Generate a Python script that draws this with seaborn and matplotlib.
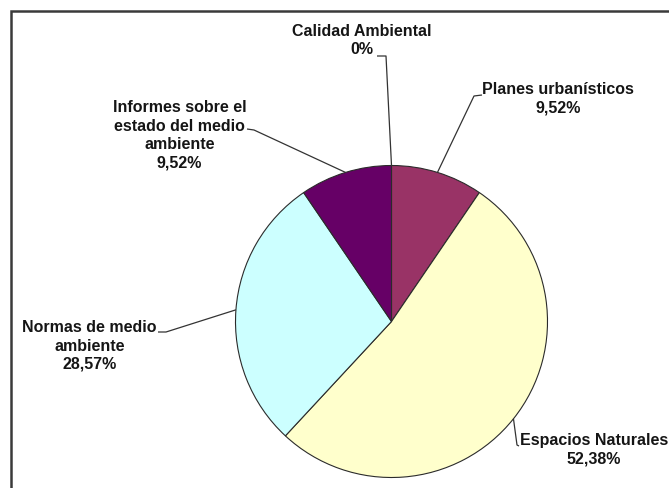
import matplotlib
matplotlib.use("Agg")
import matplotlib.pyplot as plt
from matplotlib.patches import Rectangle
import numpy as np
import seaborn as sns

# Environmental information requests by topic (percent)
categories = [
    "Calidad Ambiental",
    "Planes urbanísticos",
    "Espacios Naturales",
    "Normas de medio\nambiente",
    "Informes sobre el\nestado del medio\nambiente",
]
shares = [0.0, 9.52, 52.38, 28.57, 9.52]
slice_colors = ["#FFFFFF", "#993366", "#FFFFCC", "#CCFFFF", "#660066"]

sns.set_theme(style="white")
plt.rcParams["font.family"] = ["Liberation Sans", "DejaVu Sans"]

W, H = 669, 488
fig = plt.figure(figsize=(W / 100, H / 100), dpi=100)
fig.patch.set_facecolor("white")
ax = fig.add_axes([0, 0, 1, 1])

center = (391.5, H - 321.5)
radius = 156

wedges, _ = ax.pie(
    shares,
    colors=slice_colors,
    startangle=90,
    counterclock=False,
    center=center,
    radius=radius,
    wedgeprops=dict(edgecolor="#2b2b2b", linewidth=0.8),
)
ax.set_xlim(0, W)
ax.set_ylim(0, H)
ax.set_aspect("equal")
ax.axis("off")


def pct_text(v):
    if v == 0:
        return "0%"
    return f"{v:.2f}".replace(".", ",") + "%"


# label layout: text centre x, first-line y (pixels from top), leader start, elbow
label_layout = [
    dict(x=361.5, y=31, start=(377, 56), elbow=(386, 56)),
    dict(x=558, y=90, start=(482, 95), elbow=(474, 96)),
    dict(x=594, y=441, start=(519, 446), elbow=(517, 445)),
    dict(x=89.5, y=328, start=(158, 332), elbow=(166, 332)),
    dict(x=179.5, y=108, start=(247, 129), elbow=(254, 130)),
]

line_step = 18.2
for wedge, name, val, lay in zip(wedges, categories, shares, label_layout):
    lines = name.split("\n") + [pct_text(val)]
    for k, ln in enumerate(lines):
        ax.text(lay["x"], H - (lay["y"] + k * line_step), ln,
                ha="center", va="center", fontsize=11.5,
                fontweight="bold", color="#151515")
    mid = np.deg2rad((wedge.theta1 + wedge.theta2) / 2)
    px = center[0] + radius * np.cos(mid)
    py = center[1] + radius * np.sin(mid)
    xs = [lay["start"][0], lay["elbow"][0], px]
    ys = [H - lay["start"][1], H - lay["elbow"][1], py]
    ax.plot(xs, ys, color="#333333", linewidth=0.9, solid_capstyle="butt")

# chart area border
fig.patches.append(Rectangle((10.5 / W, 0 - 0.1), 2, (H - 10.5) / H + 0.1,
                             transform=fig.transFigure, fill=False,
                             edgecolor="#3a3a3a", linewidth=1.8))

fig.savefig("out.png", dpi=100)
